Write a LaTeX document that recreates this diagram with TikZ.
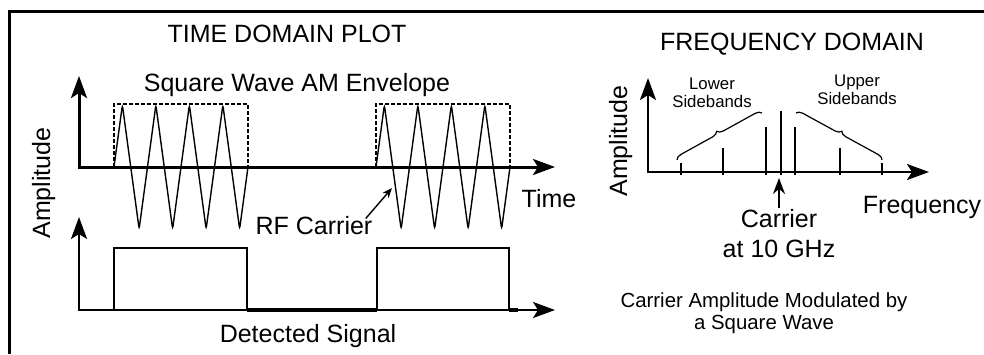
\documentclass[tikz,border=0pt]{standalone}
\usepackage{fontspec}
\setmainfont{Liberation Sans}
\usepackage{tikz}
\usetikzlibrary{arrows.meta, positioning, calc, decorations.pathreplacing}

\begin{document}
\begin{tikzpicture}[
        x=0.5pt, y=-0.5pt,
        font=\fontsize{12.5}{14}\selectfont,
        >={Stealth[length=11pt, width=8pt, inset=2.5pt]},
        axis/.style={line width=1.5pt},
        thinline/.style={line width=0.7pt},
        envbox/.style={line width=0.6pt, dash pattern=on 2pt off 1pt},
        lowsig/.style={line width=1.7pt},
        lbl/.style={anchor=base, inner sep=0pt, align=center},
        side/.style={lbl, font=\fontsize{8.4}{9}\selectfont},
        capt/.style={lbl, font=\fontsize{10.2}{11}\selectfont},
        brc/.style={line width=0.6pt, decorate, decoration={brace, amplitude=3pt}}
    ]
        \useasboundingbox (0,0) rectangle (984,354);
        % --- frame ---
        \draw[axis] (9.5,354) |- (984,11);

        % --- titles ---
        \node[lbl] (ttitle) at (287,42) {TIME DOMAIN PLOT};
        \node[lbl] (ftitle) at (792,50) {FREQUENCY DOMAIN};
        \node[lbl] (envlbl) at (297,91) {Square Wave AM Envelope};
        \node[lbl, rotate=90] (tamp) at (50,183) {Amplitude};
        \node[lbl, rotate=90] (famp) at (627,141) {Amplitude};

        % --- time domain: modulated carrier ---
        \coordinate (ty) at (79,76);
        \coordinate (tx) at (555,167);
        \foreach \s/\e in {114/248, 376/510}
            \draw[envbox] (\s,167) |- (\e,104) -- (\e,167);
        \foreach \s in {114, 376}
            \draw[thinline, rounded corners=1.5pt] (\s,167) \foreach \k in {1,...,4} {
                -- ++(8.375,-62) -- ++(16.75,124) -- ++(8.375,-62)};
        \draw[axis, <->] (ty) |- (tx);
        \node[lbl] (time) at (549,207) {Time};
        \node[lbl] (rf) at (314,234) {RF Carrier};
        \coordinate (rftip) at (392,188);
        \draw[thinline, -{Stealth[length=5pt, width=4pt]}] ([shift={(-7,3)}]rf.north east) -- (rftip);

        % --- time domain: detected signal ---
        \coordinate (ly) at (79,217);
        \coordinate (lx) at (555,310);
        \draw[thinline] (114,310) -- (114,248) -- (247,248) -- (247,310);
        \draw[thinline] (377,310) -- (377,248) -- (509,248) -- (509,310);
        \draw[axis, line width=1.1pt, <->] (ly) |- (lx);
        \draw[lowsig] (247,310) -- (377,310);
        \draw[lowsig] (509,310) -- (518,310);
        \node[lbl] (det) at (308,342) {Detected Signal};

        % --- frequency domain ---
        \coordinate (fy) at (648,78);
        \coordinate (fx) at (929,172);
        \draw[axis, line width=1.3pt, <->] (fy) |- (fx);
        \foreach \x/\h in {681/163, 723/148, 766/127, 781/111, 795/127, 840/148, 882/163}
            \draw[thinline] (\x,175) -- (\x,\h);
        \draw[brc] (677,160) -- (762,113);
        \draw[brc] (796,113) -- (882,160);
        \node[side] (lsb) at (712,107) {Lower\\Sidebands};
        \node[side] (usb) at (857,104) {Upper\\Sidebands};
        \node[lbl] (carr) at (779,257) {Carrier\\[1pt]at 10 GHz};
        \coordinate (carrtip) at (779,178);
        \draw[thinline, -{Stealth[length=8pt, width=6pt]}] (carr.north) -- (carrtip);
        \node[lbl] (freq) at (922,213) {Frequency};
        \node[capt] (capt) at (764,329) {Carrier Amplitude Modulated by\\a Square Wave};
    \end{tikzpicture}
\end{document}
